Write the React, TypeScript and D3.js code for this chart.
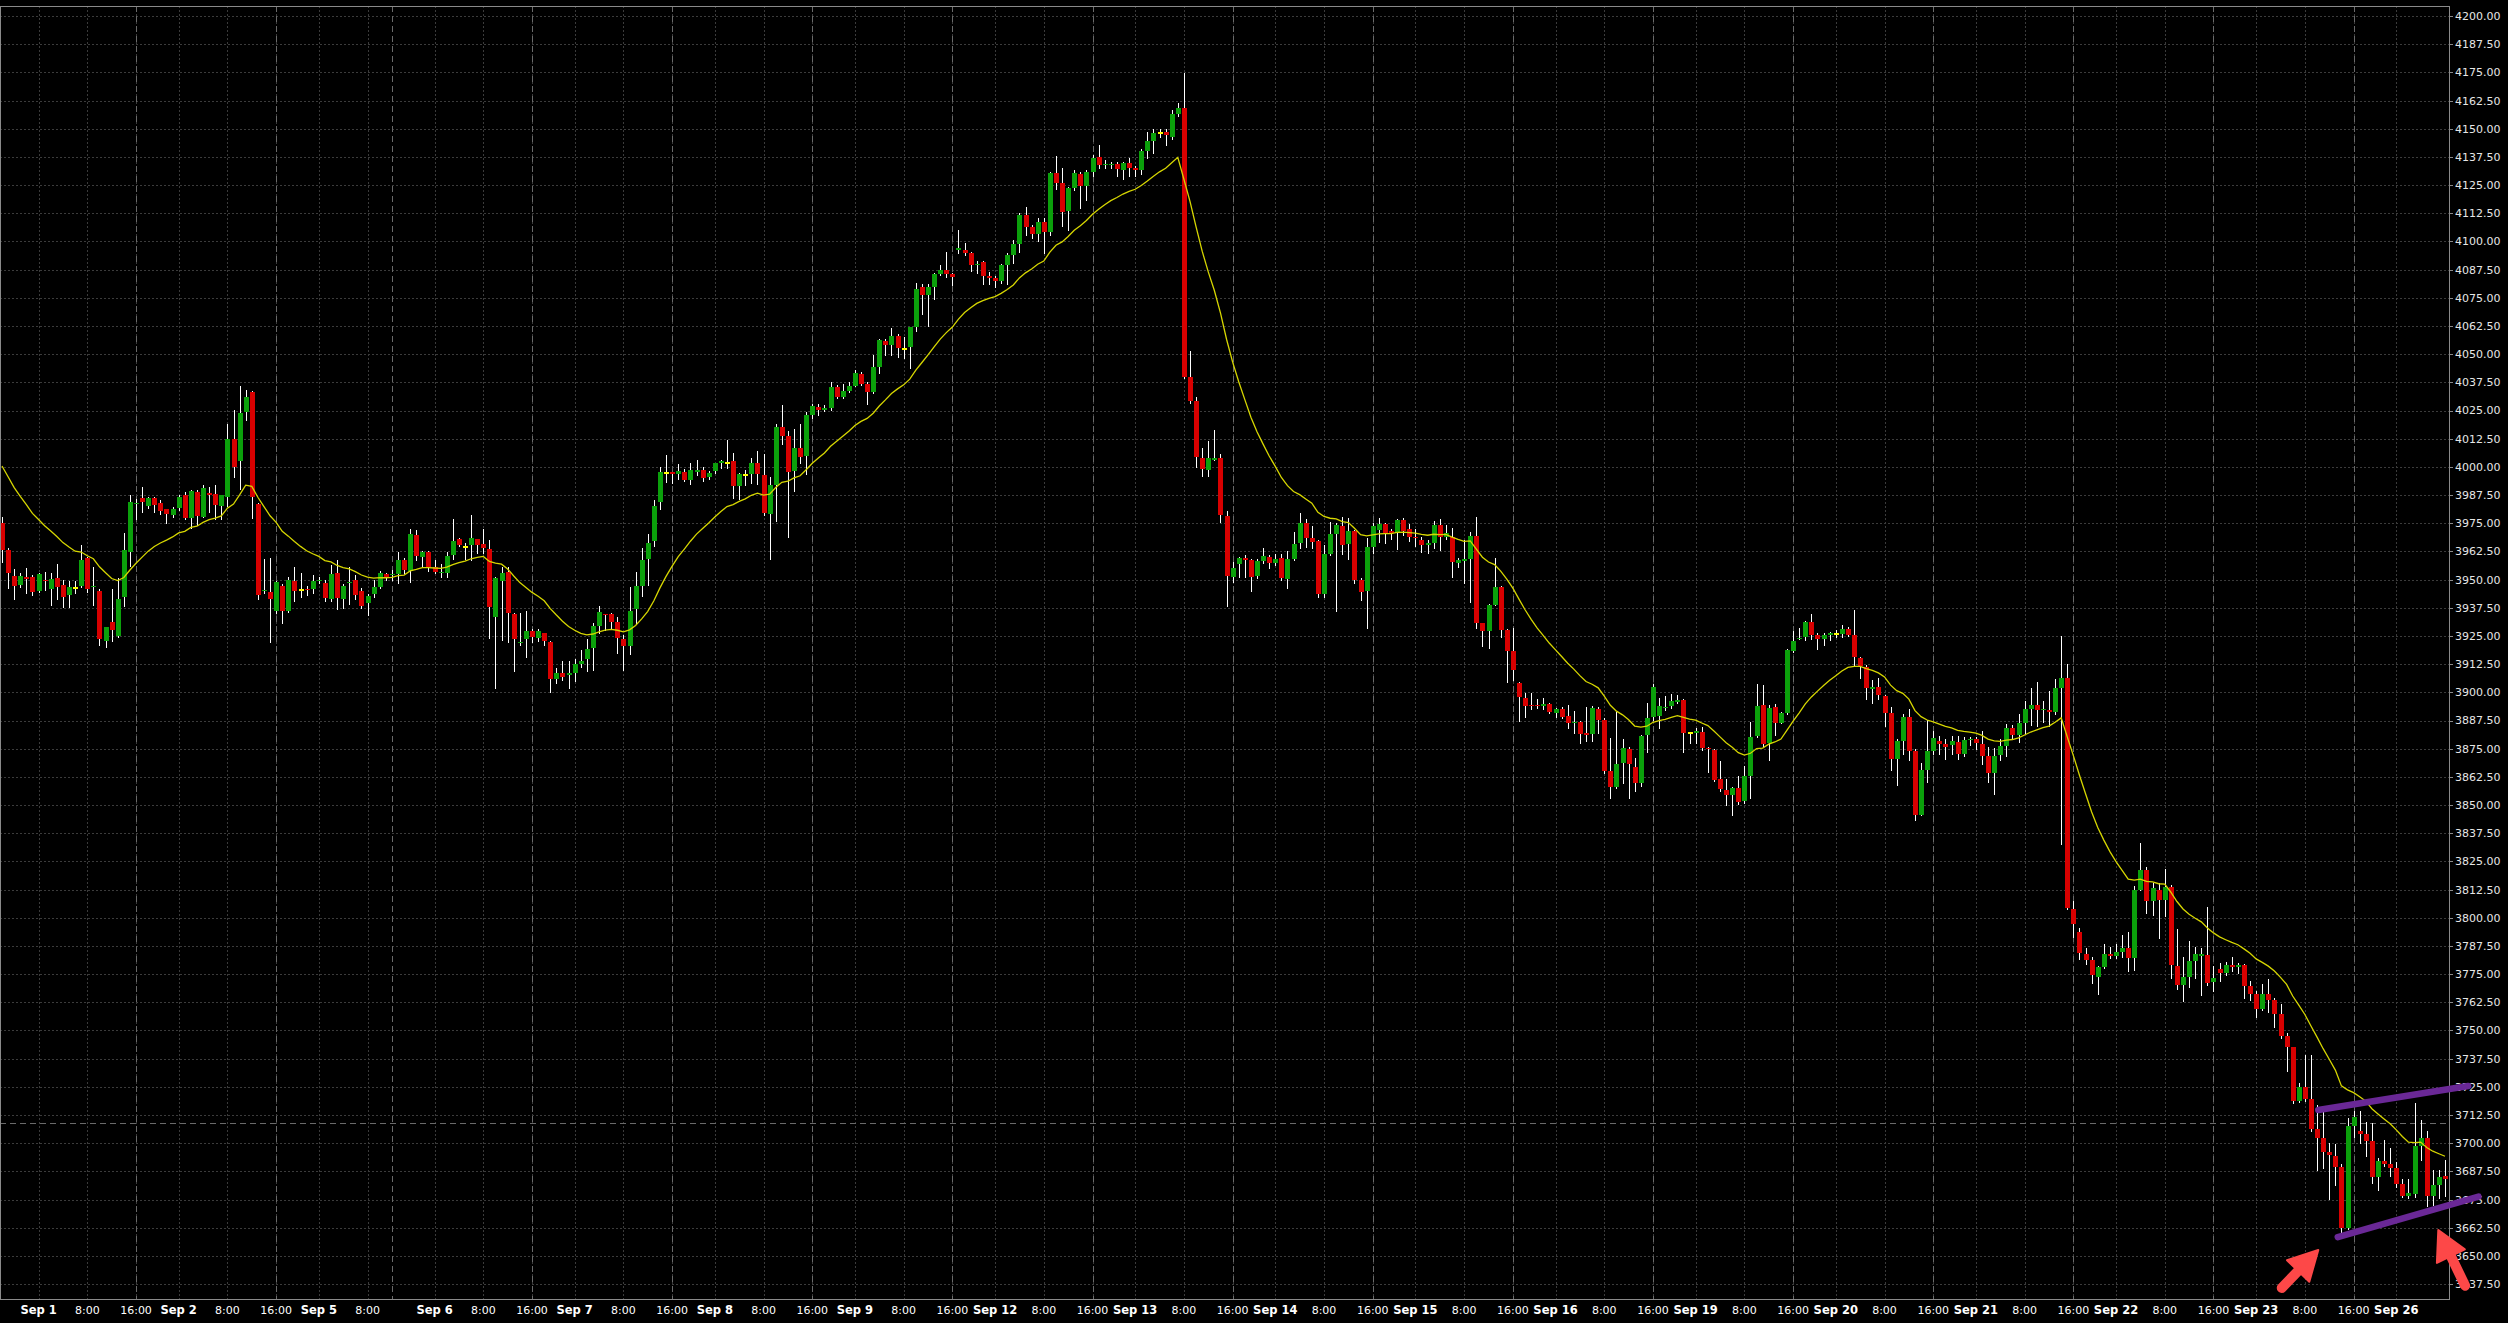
import React from 'react';
import * as d3 from 'd3';

// ---------------- DATA (hourly bars) ----------------
const opens = [
  3974.9, 3963.1, 3951.6, 3947.6, 3951.0, 3951.0, 3945.1, 3949.8, 3946.0, 3950.5,
  3947.4, 3943.0, 3946.3, 3947.1, 3959.4, 3946.5, 3944.9, 3922.9, 3931.2, 3925.1,
  3942.4, 3962.4, 3983.5, 3986.3, 3982.6, 3986.3, 3983.8, 3981.2, 3978.6, 3981.6,
  3987.5, 3977.5, 3988.8, 3977.9, 3988.3, 3987.8, 3982.8, 3986.8, 4012.2, 4002.7,
  4024.5, 4033.2, 3983.5, 3944.8, 3944.6, 3936.2, 3947.1, 3936.2, 3949.4, 3945.5,
  3945.8, 3946.0, 3949.2, 3948.5, 3941.2, 3952.8, 3941.5, 3948.5, 3949.8, 3944.9,
  3939.7, 3943.6, 3946.8, 3952.3, 3952.0, 3952.3, 3958.7, 3953.9, 3969.8, 3960.2,
  3962.4, 3955.4, 3952.8, 3953.1, 3960.9, 3967.8, 3964.6, 3965.2, 3967.8, 3965.9,
  3963.4, 3933.2, 3949.5, 3953.5, 3934.7, 3921.7, 3923.5, 3927.0, 3924.1, 3926.1,
  3922.3, 3905.7, 3908.5, 3907.8, 3908.7, 3912.5, 3914.8, 3919.8, 3929.5, 3934.7,
  3934.7, 3931.3, 3923.8, 3920.7, 3936.8, 3947.1, 3959.2, 3967.0, 3984.6, 3997.3,
  3997.7, 3996.7, 3997.7, 3994.1, 3997.7, 3998.4, 3995.3, 3998.0, 4001.8, 4001.8,
  4002.5, 3991.6, 3996.3, 3997.0, 4001.5, 3996.3, 3979.0, 3992.0, 4017.7, 4013.6,
  3998.0, 4008.4, 4004.9, 4023.1, 4026.5, 4025.3, 4026.3, 4035.5, 4030.8, 4033.6,
  4036.0, 4041.2, 4036.7, 4033.4, 4044.1, 4055.8, 4054.1, 4058.1, 4052.4, 4053.3,
  4062.2, 4079.8, 4076.4, 4079.8, 4085.5, 4087.3, 4085.5, 4096.4, 4096.4, 4094.7,
  4089.5, 4090.9, 4084.7, 4083.6, 4082.6, 4089.5, 4094.2, 4098.8, 4111.9, 4106.4,
  4103.3, 4108.8, 4104.2, 4130.4, 4126.1, 4113.7, 4123.5, 4130.1, 4124.4, 4130.9,
  4137.3, 4133.7, 4133.7, 4134.4, 4131.8, 4134.7, 4132.7, 4131.8, 4139.9, 4144.7,
  4148.2, 4148.5, 4146.5, 4156.5, 4159.2, 4040.0, 4029.4, 4004.1, 3998.7, 4003.2,
  4004.1, 3978.0, 3951.3, 3956.9, 3959.4, 3958.7, 3951.6, 3958.1, 3959.9, 3957.5,
  3959.4, 3950.3, 3959.1, 3966.4, 3975.0, 3968.6, 3967.1, 3943.6, 3961.4, 3970.2,
  3973.8, 3965.8, 3971.6, 3949.8, 3944.9, 3964.6, 3972.0, 3974.7, 3971.6, 3970.8,
  3976.4, 3972.3, 3969.0, 3967.6, 3965.5, 3966.4, 3974.2, 3968.7, 3969.0, 3957.5,
  3958.4, 3959.3, 3969.3, 3930.6, 3927.3, 3938.7, 3946.6, 3927.6, 3918.5, 3904.0,
  3897.6, 3894.4, 3894.4, 3893.9, 3894.8, 3891.0, 3892.7, 3889.5, 3886.2, 3886.8,
  3881.8, 3881.3, 3892.6, 3887.7, 3865.2, 3858.1, 3868.5, 3874.7, 3867.0, 3859.9,
  3881.1, 3888.9, 3889.5, 3892.9, 3893.9, 3895.7, 3896.6, 3881.8, 3882.1, 3882.5,
  3875.1, 3874.4, 3861.4, 3856.7, 3854.4, 3857.4, 3851.9, 3862.9, 3880.6, 3894.4,
  3877.4, 3893.6, 3886.5, 3890.7, 3918.5, 3923.5, 3924.4, 3931.2, 3925.4, 3923.5,
  3925.3, 3925.9, 3926.0, 3928.3, 3925.3, 3915.2, 3911.1, 3901.6, 3902.3, 3898.4,
  3890.9, 3870.4, 3878.4, 3889.0, 3874.1, 3845.7, 3865.4, 3874.1, 3878.4, 3876.9,
  3876.5, 3877.9, 3872.8, 3878.8, 3879.4, 3877.1, 3871.9, 3864.4, 3872.4, 3876.2,
  3884.0, 3881.2, 3886.4, 3892.8, 3894.3, 3892.0, 3892.0, 3891.3, 3902.1, 3906.4,
  3803.7, 3793.8, 3784.1, 3781.3, 3773.9, 3778.2, 3783.8, 3783.2, 3784.9, 3786.4,
  3782.3, 3812.5, 3821.4, 3807.4, 3812.5, 3808.0, 3813.6, 3778.5, 3770.1, 3773.9,
  3780.7, 3783.2, 3783.6, 3771.4, 3777.4, 3775.7, 3778.9, 3778.2, 3778.9, 3769.6,
  3766.4, 3759.5, 3766.4, 3763.6, 3757.1, 3747.7, 3742.7, 3718.8, 3724.8, 3719.7,
  3706.1, 3702.4, 3696.0, 3694.5, 3689.3, 3662.4, 3707.6, 3705.4, 3704.2, 3701.1,
  3685.2, 3692.3, 3690.8, 3688.9, 3681.8, 3676.8, 3677.3, 3698.6, 3702.4, 3676.8,
  3681.4, 3685.6,
];

const highs = [
  3977.9, 3964.0, 3954.5, 3952.8, 3955.0, 3952.0, 3952.8, 3953.5, 3952.8, 3956.9,
  3949.8, 3949.5, 3949.5, 3965.3, 3960.2, 3955.7, 3945.7, 3929.1, 3945.7, 3950.8,
  3970.5, 3987.5, 3985.9, 3991.1, 3986.8, 3986.8, 3985.3, 3981.2, 3982.3, 3987.5,
  3989.0, 3989.6, 3989.7, 3991.8, 3991.2, 3991.8, 3987.7, 4019.0, 4025.2, 4035.9,
  4034.1, 4033.8, 3983.8, 3959.3, 3959.4, 3949.2, 3948.0, 3951.3, 3955.6, 3953.1,
  3947.3, 3952.0, 3951.3, 3949.8, 3956.5, 3958.7, 3947.9, 3955.7, 3952.0, 3946.3,
  3943.4, 3949.8, 3953.9, 3952.8, 3954.2, 3962.2, 3959.4, 3972.4, 3972.0, 3962.8,
  3962.8, 3958.7, 3956.9, 3962.4, 3976.9, 3968.3, 3966.4, 3978.6, 3967.8, 3972.3,
  3967.5, 3951.0, 3955.7, 3955.7, 3935.3, 3935.0, 3936.1, 3927.9, 3927.9, 3926.4,
  3922.7, 3910.6, 3913.9, 3913.9, 3914.9, 3918.8, 3923.5, 3930.6, 3938.3, 3934.7,
  3935.3, 3933.5, 3925.5, 3946.6, 3953.2, 3963.9, 3970.4, 3985.1, 3999.8, 4005.3,
  3997.7, 4001.1, 3998.9, 4001.5, 4003.2, 4000.1, 3998.0, 4001.8, 4003.2, 4011.8,
  4006.1, 3997.5, 3998.4, 4004.1, 4007.0, 4005.8, 3995.4, 4019.1, 4027.4, 4015.8,
  4017.0, 4019.1, 4024.3, 4027.7, 4027.7, 4027.4, 4037.7, 4036.3, 4036.9, 4037.7,
  4042.9, 4042.0, 4037.7, 4049.8, 4056.7, 4056.7, 4061.5, 4058.8, 4057.6, 4062.2,
  4081.7, 4080.9, 4080.9, 4086.0, 4089.5, 4095.5, 4086.0, 4105.0, 4099.3, 4095.5,
  4091.2, 4091.2, 4086.4, 4084.7, 4089.8, 4094.7, 4100.7, 4112.8, 4115.4, 4107.1,
  4110.2, 4110.2, 4130.9, 4137.8, 4132.7, 4124.0, 4131.6, 4130.9, 4131.6, 4138.2,
  4143.0, 4136.1, 4135.2, 4135.2, 4135.2, 4137.0, 4133.5, 4140.9, 4148.5, 4149.9,
  4149.9, 4149.9, 4158.5, 4161.6, 4174.9, 4051.2, 4030.8, 4008.4, 4011.5, 4016.2,
  4005.8, 3980.4, 3957.9, 3960.2, 3960.9, 3959.0, 3959.0, 3963.9, 3960.9, 3961.4,
  3961.4, 3962.8, 3971.3, 3979.4, 3976.7, 3973.8, 3967.6, 3965.3, 3975.7, 3975.0,
  3977.9, 3977.2, 3972.0, 3950.6, 3968.3, 3975.0, 3977.2, 3975.2, 3972.3, 3976.7,
  3977.2, 3974.7, 3972.3, 3968.7, 3967.6, 3976.1, 3976.9, 3974.2, 3972.7, 3959.4,
  3967.6, 3971.3, 3977.9, 3930.9, 3939.2, 3959.4, 3947.2, 3927.9, 3928.4, 3904.7,
  3899.5, 3899.5, 3896.9, 3897.3, 3895.1, 3893.0, 3893.6, 3894.4, 3891.9, 3887.4,
  3893.6, 3893.9, 3893.6, 3888.5, 3879.6, 3891.4, 3879.1, 3875.9, 3870.7, 3881.1,
  3895.1, 3903.7, 3897.3, 3898.4, 3899.3, 3898.8, 3896.9, 3882.5, 3884.0, 3884.8,
  3875.9, 3874.7, 3869.7, 3861.4, 3858.1, 3862.9, 3867.3, 3887.0, 3903.7, 3903.2,
  3894.4, 3894.8, 3891.4, 3919.1, 3927.3, 3928.4, 3931.8, 3934.7, 3926.2, 3926.2,
  3926.9, 3927.6, 3929.8, 3928.8, 3936.3, 3915.7, 3912.0, 3905.5, 3906.4, 3898.8,
  3893.3, 3879.4, 3890.5, 3892.8, 3874.7, 3868.5, 3887.7, 3882.7, 3880.8, 3879.4,
  3880.8, 3880.8, 3880.3, 3880.3, 3880.3, 3882.7, 3875.6, 3875.2, 3879.4, 3885.9,
  3885.3, 3890.5, 3896.1, 3901.7, 3904.5, 3896.1, 3900.8, 3905.9, 3925.1, 3912.6,
  3807.4, 3795.3, 3786.4, 3782.6, 3778.5, 3788.2, 3786.9, 3788.2, 3792.5, 3793.5,
  3814.0, 3833.0, 3822.4, 3815.5, 3815.5, 3821.8, 3814.4, 3794.9, 3782.6, 3789.7,
  3786.9, 3786.4, 3804.7, 3778.5, 3780.0, 3780.4, 3782.6, 3780.0, 3779.5, 3772.0,
  3767.3, 3770.7, 3772.9, 3764.5, 3761.7, 3748.7, 3742.7, 3726.6, 3739.3, 3739.3,
  3716.9, 3714.7, 3700.1, 3699.7, 3690.8, 3711.3, 3714.1, 3714.1, 3709.4, 3709.1,
  3693.6, 3701.6, 3697.9, 3691.7, 3684.3, 3684.3, 3717.9, 3710.4, 3705.4, 3688.0,
  3688.0, 3692.7,
];

const lows = [
  3957.9, 3946.1, 3941.2, 3946.8, 3943.9, 3943.2, 3944.6, 3945.4, 3938.7, 3941.2,
  3937.7, 3937.7, 3943.9, 3946.8, 3944.6, 3938.7, 3921.0, 3919.9, 3922.9, 3924.7,
  3938.4, 3956.2, 3976.7, 3980.1, 3981.6, 3980.1, 3978.9, 3974.9, 3977.6, 3981.0,
  3976.9, 3972.7, 3974.2, 3977.9, 3980.1, 3977.0, 3976.7, 3982.8, 3995.3, 3990.0,
  4020.8, 3977.5, 3941.5, 3943.9, 3922.5, 3935.0, 3930.9, 3935.8, 3940.6, 3942.4,
  3943.2, 3943.9, 3948.6, 3940.3, 3940.3, 3937.1, 3937.2, 3939.2, 3941.5, 3937.2,
  3934.3, 3942.4, 3946.4, 3949.8, 3949.8, 3948.3, 3952.8, 3949.1, 3958.7, 3955.7,
  3953.9, 3952.8, 3951.0, 3951.0, 3959.0, 3965.0, 3959.0, 3958.7, 3961.6, 3961.6,
  3923.9, 3901.7, 3923.2, 3922.5, 3909.6, 3921.0, 3915.8, 3922.5, 3922.9, 3921.0,
  3900.0, 3904.3, 3905.4, 3902.0, 3905.1, 3911.4, 3909.6, 3909.9, 3926.4, 3927.6,
  3928.4, 3917.3, 3910.0, 3916.9, 3930.7, 3942.8, 3947.6, 3964.9, 3981.1, 3993.2,
  3992.9, 3994.6, 3993.7, 3992.2, 3996.3, 3993.7, 3994.6, 3997.2, 3999.4, 3999.4,
  3986.3, 3985.9, 3992.0, 3992.9, 3992.5, 3978.5, 3959.2, 3975.9, 4010.1, 3969.0,
  3989.4, 4001.5, 3996.7, 4021.8, 4023.1, 4024.8, 4025.1, 4030.5, 4030.5, 4033.2,
  4035.7, 4036.3, 4027.7, 4032.9, 4041.5, 4049.5, 4049.5, 4048.9, 4048.4, 4043.8,
  4060.2, 4067.8, 4062.7, 4074.3, 4085.2, 4084.3, 4080.5, 4094.7, 4093.8, 4086.9,
  4086.0, 4080.9, 4080.9, 4080.0, 4081.7, 4081.2, 4090.4, 4095.5, 4103.0, 4101.6,
  4100.2, 4095.0, 4103.0, 4123.2, 4106.8, 4105.0, 4123.0, 4115.0, 4118.5, 4129.2,
  4132.7, 4132.7, 4132.7, 4128.9, 4127.8, 4129.2, 4128.9, 4130.1, 4137.0, 4139.2,
  4146.5, 4143.0, 4145.6, 4155.8, 4039.4, 4028.2, 4000.1, 3995.8, 3995.8, 4002.9,
  3975.6, 3938.5, 3949.1, 3951.3, 3951.3, 3945.1, 3950.7, 3957.2, 3955.0, 3956.5,
  3949.8, 3946.4, 3958.7, 3963.9, 3964.6, 3963.9, 3942.4, 3942.4, 3960.9, 3936.2,
  3961.4, 3959.0, 3948.6, 3940.9, 3928.4, 3961.9, 3966.8, 3966.1, 3967.9, 3963.6,
  3969.8, 3967.3, 3964.9, 3962.4, 3961.9, 3963.9, 3963.1, 3967.9, 3951.3, 3955.7,
  3948.3, 3940.2, 3928.4, 3920.5, 3919.5, 3938.7, 3924.7, 3904.7, 3905.5, 3887.4,
  3889.2, 3892.4, 3892.9, 3892.4, 3890.7, 3889.2, 3888.5, 3884.0, 3881.8, 3877.7,
  3878.6, 3878.6, 3881.8, 3864.0, 3853.0, 3857.4, 3859.6, 3853.0, 3856.4, 3858.4,
  3873.7, 3887.7, 3884.0, 3892.2, 3892.9, 3895.4, 3873.7, 3877.4, 3877.4, 3874.4,
  3864.8, 3860.8, 3856.4, 3850.0, 3845.6, 3850.4, 3850.7, 3853.0, 3880.3, 3875.9,
  3870.0, 3881.1, 3886.2, 3890.4, 3918.0, 3923.5, 3923.2, 3923.5, 3919.1, 3921.0,
  3923.2, 3924.4, 3924.5, 3925.1, 3912.0, 3906.4, 3897.1, 3895.2, 3897.1, 3884.9,
  3865.4, 3858.8, 3872.8, 3870.0, 3843.5, 3845.4, 3860.3, 3872.8, 3872.8, 3870.4,
  3872.8, 3870.4, 3871.9, 3876.5, 3874.7, 3868.1, 3860.3, 3854.7, 3870.0, 3871.9,
  3879.4, 3877.9, 3882.1, 3885.3, 3884.9, 3886.8, 3884.9, 3890.5, 3832.7, 3803.7,
  3791.6, 3781.9, 3779.4, 3771.1, 3766.4, 3777.6, 3782.3, 3782.3, 3782.6, 3776.6,
  3777.0, 3812.1, 3801.9, 3801.3, 3791.2, 3800.6, 3773.3, 3768.3, 3763.2, 3769.2,
  3773.3, 3765.8, 3770.1, 3767.3, 3772.0, 3774.4, 3776.6, 3775.7, 3764.5, 3763.6,
  3756.1, 3758.9, 3758.0, 3751.4, 3746.8, 3731.9, 3717.9, 3718.4, 3718.8, 3705.4,
  3688.0, 3688.9, 3675.4, 3681.4, 3660.0, 3661.8, 3702.9, 3700.1, 3694.5, 3682.4,
  3679.2, 3689.9, 3685.6, 3680.5, 3676.2, 3675.9, 3676.2, 3692.7, 3672.1, 3672.5,
  3675.9, 3676.8,
];

const closes = [
  3963.1, 3952.8, 3947.1, 3951.6, 3950.4, 3944.6, 3952.3, 3949.2, 3950.4, 3946.8,
  3942.4, 3946.5, 3946.3, 3958.7, 3946.0, 3947.1, 3923.5, 3929.1, 3927.6, 3941.4,
  3963.1, 3984.4, 3984.1, 3984.6, 3986.3, 3983.1, 3980.4, 3979.1, 3981.5, 3986.8,
  3977.5, 3989.1, 3978.3, 3990.6, 3987.7, 3982.9, 3987.7, 4012.2, 4000.1, 4024.0,
  4030.8, 3986.5, 3943.0, 3945.4, 3941.5, 3948.8, 3936.2, 3949.8, 3945.1, 3945.5,
  3945.4, 3949.4, 3949.8, 3942.0, 3952.5, 3942.0, 3947.1, 3948.9, 3943.0, 3938.4,
  3942.7, 3946.5, 3952.8, 3950.5, 3952.6, 3958.7, 3954.2, 3970.2, 3960.5, 3962.4,
  3955.7, 3953.5, 3953.4, 3960.5, 3967.0, 3965.3, 3964.6, 3968.3, 3965.3, 3964.0,
  3938.0, 3950.5, 3953.1, 3935.3, 3923.5, 3922.3, 3927.0, 3924.7, 3927.0, 3922.9,
  3905.9, 3908.4, 3906.9, 3908.4, 3912.5, 3913.9, 3919.1, 3929.4, 3935.5, 3934.1,
  3931.3, 3923.9, 3920.4, 3935.9, 3947.1, 3958.7, 3966.1, 3982.8, 3997.7, 3997.3,
  3996.7, 3998.0, 3994.1, 3998.4, 3998.4, 3994.9, 3997.3, 4001.5, 4002.5, 4001.8,
  3991.6, 3997.0, 3996.3, 4001.5, 3996.7, 3979.4, 3992.0, 4017.7, 4013.9, 3997.7,
  4008.4, 4004.6, 4023.1, 4027.0, 4025.3, 4026.3, 4035.5, 4031.2, 4033.6, 4035.7,
  4041.5, 4036.7, 4033.4, 4044.3, 4056.2, 4054.1, 4058.1, 4052.9, 4052.4, 4061.9,
  4079.1, 4076.4, 4079.8, 4085.5, 4087.4, 4085.7, 4084.3, 4097.1, 4094.7, 4089.5,
  4090.2, 4084.8, 4084.0, 4082.6, 4089.5, 4094.2, 4098.8, 4111.9, 4106.4, 4103.3,
  4108.8, 4104.2, 4130.4, 4126.1, 4113.1, 4123.5, 4130.4, 4124.4, 4130.9, 4137.0,
  4134.0, 4134.4, 4134.4, 4132.1, 4134.7, 4132.7, 4131.8, 4139.9, 4144.7, 4148.2,
  4148.2, 4147.0, 4156.5, 4159.1, 4040.0, 4029.4, 4004.6, 3998.9, 4003.9, 4003.9,
  3978.7, 3951.4, 3955.0, 3959.4, 3958.7, 3951.3, 3958.1, 3960.5, 3957.5, 3959.0,
  3950.8, 3959.0, 3965.8, 3975.0, 3968.6, 3966.8, 3943.6, 3961.4, 3970.2, 3974.1,
  3965.3, 3971.6, 3949.8, 3944.6, 3964.3, 3973.8, 3974.7, 3970.8, 3970.5, 3976.4,
  3971.7, 3969.0, 3968.3, 3965.3, 3966.1, 3974.2, 3968.7, 3970.5, 3957.9, 3958.7,
  3959.0, 3969.3, 3930.9, 3927.3, 3938.7, 3946.6, 3927.6, 3918.5, 3909.9, 3897.8,
  3893.9, 3893.8, 3893.8, 3894.8, 3891.4, 3892.7, 3889.2, 3886.2, 3886.8, 3881.3,
  3881.1, 3892.9, 3887.7, 3865.2, 3857.8, 3868.2, 3875.1, 3868.2, 3859.9, 3880.6,
  3888.5, 3902.2, 3893.9, 3893.6, 3896.0, 3896.6, 3882.1, 3881.8, 3882.8, 3875.4,
  3874.7, 3861.1, 3857.0, 3854.4, 3857.4, 3851.5, 3862.9, 3880.0, 3893.9, 3877.1,
  3892.9, 3886.5, 3891.0, 3918.8, 3922.9, 3924.1, 3931.2, 3925.4, 3923.5, 3925.3,
  3926.2, 3925.9, 3928.3, 3925.6, 3915.7, 3911.5, 3901.7, 3902.3, 3898.6, 3890.9,
  3870.4, 3878.4, 3889.0, 3874.1, 3845.7, 3865.4, 3874.1, 3879.7, 3877.1, 3875.6,
  3878.4, 3872.8, 3878.8, 3879.4, 3877.5, 3871.9, 3864.4, 3871.9, 3876.2, 3884.0,
  3881.2, 3886.4, 3892.4, 3894.3, 3892.0, 3892.8, 3891.3, 3902.1, 3906.4, 3804.3,
  3797.2, 3784.5, 3781.3, 3774.4, 3778.2, 3783.8, 3783.2, 3784.9, 3786.4, 3782.3,
  3812.5, 3821.4, 3807.4, 3813.1, 3808.0, 3813.6, 3778.9, 3770.1, 3773.9, 3780.7,
  3783.8, 3783.8, 3771.1, 3773.5, 3775.7, 3778.9, 3778.2, 3778.9, 3769.6, 3766.4,
  3759.5, 3766.4, 3763.6, 3757.1, 3747.7, 3742.7, 3718.8, 3724.8, 3719.7, 3706.1,
  3702.4, 3696.0, 3694.9, 3689.3, 3662.4, 3707.6, 3711.7, 3704.2, 3701.1, 3684.8,
  3692.3, 3690.8, 3688.9, 3681.8, 3676.8, 3677.7, 3698.6, 3702.4, 3676.8, 3681.4,
  3685.2, 3684.3,
];

// time axis: bars before the first labelled day, then bars per session day
const leadBars = 6;
const dayLabels = ['Sep 1', 'Sep 2', 'Sep 5', 'Sep 6', 'Sep 7', 'Sep 8', 'Sep 9', 'Sep 12', 'Sep 13',
  'Sep 14', 'Sep 15', 'Sep 16', 'Sep 19', 'Sep 20', 'Sep 21', 'Sep 22', 'Sep 23', 'Sep 26'];
const dayBarCounts = [23, 23, 19, 23, 23, 23, 23, 23, 23, 23, 23, 23, 23, 23, 23, 23, 23, 9];
const sessionBreakHour = [16, 16, 12, 16, 16, 16, 16, 16, 16, 16, 16, 16, 16, 16, 16, 16, 16, 16];
const timeLabelHours = [8, 16];

// price axis
const priceMin = 3637.5;
const priceMax = 4200;
const priceStep = 12.5;

// moving average (exponential, 19 bars) and its value at the first bar
const maPeriod = 19;
const maStart = 4000.4;

// horizontal dashed price line
const markerPrice = 3709;

// hand-drawn annotations: [bar index, price]
const channelUpper = [[380.2, 3714.7], [404.8, 3725.4]];
const channelLower = [[383.4, 3658.3], [406.5, 3676.3]];
const arrowTips = [[380.2, 3652.6], [399.9, 3661.5]];
const arrowTails = [[374.2, 3635.8], [404.3, 3636.8]];

// ---------------- CHART ----------------
const W = 2508;
const H = 1323;
const PL = 0, PT = 6, PR = 2449, PB = 1299;

const COL_UP = '#0ba00b';
const COL_DN = '#d80000';
const COL_DOJI = '#ffff00';
const COL_GRID = '#3b3b3b';
const COL_SEP = '#6a6a6a';
const COL_FRAME = '#8a8a8a';

export default function App() {
  const n = closes.length;
  const x = d3.scaleLinear().domain([0, n - 1]).range([2, 2445]);
  const y = d3.scaleLinear().domain([priceMin, priceMax]).range([1284.1, 16]);

  const ticks = d3.range(priceMin, priceMax + 0.001, priceStep);

  // time labels & separators
  type Lab = { bar: number; text: string; bold: boolean };
  const labs: Lab[] = [];
  const seps: number[] = [];
  let start = leadBars;
  dayLabels.forEach((d, k) => {
    labs.push({ bar: start, text: d, bold: true });
    timeLabelHours.forEach((h) => {
      if (h < dayBarCounts[k]) labs.push({ bar: start + h, text: `${h}:00`, bold: false });
    });
    if (sessionBreakHour[k] < dayBarCounts[k]) seps.push(start + sessionBreakHour[k]);
    start += dayBarCounts[k];
  });
  labs.sort((a, b) => a.bar - b.bar);
  const shown = labs.filter((l, i) => {
    if (l.bold) return true;
    const next = labs[i + 1];
    if (next && next.bar - l.bar < 5) return false;
    if (x(l.bar) + 14 > PR) return false;
    return true;
  });

  // EMA
  const alpha = 2 / (maPeriod + 1);
  const ma: number[] = [];
  closes.forEach((c, i) => {
    ma.push(i === 0 ? maStart : ma[i - 1] + alpha * (c - ma[i - 1]));
  });
  const maLine = d3.line<number>().x((_, i) => x(i)).y((v) => y(v))(ma) || '';

  const cx = (i: number) => Math.round(x(i));

  // arrow geometry
  const arrows = arrowTips.map((tp, k) => {
    const tx = x(tp[0]), ty = y(tp[1]);
    const sx = x(arrowTails[k][0]), sy = y(arrowTails[k][1]);
    const dx = tx - sx, dy = ty - sy;
    const len = Math.hypot(dx, dy);
    const ux = dx / len, uy = dy / len;
    const nx = -uy, ny = ux;
    const hl = 29, hw = 15.5;
    const bx = tx - ux * hl, by = ty - uy * hl;
    const head = `${tx},${ty} ${bx + nx * hw},${by + ny * hw} ${bx - nx * hw},${by - ny * hw}`;
    return { sx, sy, ex: bx + ux * 3, ey: by + uy * 3, head };
  });

  return (
    <svg width={W} height={H} style={{ position: 'fixed', left: 0, top: 0, display: 'block' }}
      xmlns="http://www.w3.org/2000/svg">
      <rect x={0} y={0} width={W} height={H} fill="#000" />

      {/* horizontal grid */}
      <g shapeRendering="crispEdges">
        {ticks.map((t) => (
          <line key={'hg' + t} x1={PL} x2={PR} y1={Math.round(y(t)) + 0.5} y2={Math.round(y(t)) + 0.5}
            stroke={COL_GRID} strokeWidth={1} strokeDasharray="2,2" />
        ))}
        {shown.map((l) => (
          <line key={'vg' + l.bar} x1={cx(l.bar) + 0.5} x2={cx(l.bar) + 0.5} y1={PT} y2={PB}
            stroke={COL_GRID} strokeWidth={1} strokeDasharray="2,2" />
        ))}
        {seps.map((b) => (
          <line key={'sp' + b} x1={cx(b) + 0.5} x2={cx(b) + 0.5} y1={PT} y2={PB}
            stroke={COL_SEP} strokeWidth={1} strokeDasharray="6,4" />
        ))}
        <line x1={PL} x2={PR} y1={Math.round(y(markerPrice)) + 0.5} y2={Math.round(y(markerPrice)) + 0.5}
          stroke={COL_SEP} strokeWidth={1} strokeDasharray="6,4" />
      </g>

      {/* candles */}
      <g shapeRendering="crispEdges">
        {closes.map((c, i) => (
          <line key={'w' + i} x1={cx(i) + 0.5} x2={cx(i) + 0.5} y1={Math.round(y(highs[i]))}
            y2={Math.round(y(lows[i])) + 1} stroke="#ffffff" strokeWidth={1} />
        ))}
        {closes.map((c, i) => {
          const o = opens[i];
          if (o === c) {
            return <rect key={'b' + i} x={cx(i) - 2} y={Math.round(y(c)) - 1} width={5} height={2} fill={COL_DOJI} />;
          }
          const top = Math.round(y(Math.max(o, c)));
          const bot = Math.round(y(Math.min(o, c)));
          return (
            <rect key={'b' + i} x={cx(i) - 2} y={top} width={5} height={Math.max(1, bot - top)}
              fill={c > o ? COL_UP : COL_DN} />
          );
        })}
      </g>

      {/* moving average */}
      <path d={maLine} fill="none" stroke="#d6d600" strokeWidth={1.3} />

      {/* frame */}
      <g shapeRendering="crispEdges" stroke={COL_FRAME} strokeWidth={1} fill="none">
        <line x1={PL + 0.5} x2={PR + 0.5} y1={PT + 0.5} y2={PT + 0.5} />
        <line x1={PL + 0.5} x2={PL + 0.5} y1={PT} y2={PB + 0.5} />
        <line x1={PR + 0.5} x2={PR + 0.5} y1={PT} y2={PB + 0.5} />
        <line x1={PL} x2={PR + 0.5} y1={PB + 0.5} y2={PB + 0.5} />
      </g>

      {/* price axis */}
      <g>
        {ticks.map((t) => (
          <g key={'yt' + t}>
            <line x1={PR + 1} x2={PR + 4} y1={Math.round(y(t)) + 0.5} y2={Math.round(y(t)) + 0.5}
              stroke={COL_FRAME} shapeRendering="crispEdges" />
            <text x={2455} y={y(t)} dy="0.36em" fill="#e6e6e6" fontFamily="'DejaVu Sans', sans-serif"
              fontSize={11}>
              {t.toFixed(2)}
            </text>
          </g>
        ))}
      </g>

      {/* time axis */}
      <g>
        {shown.map((l) => (
          <text key={'xl' + l.bar} x={x(l.bar)} y={1314} textAnchor="middle" fill="#ffffff"
            fontFamily="'DejaVu Sans', sans-serif" fontSize={l.bold ? 11.5 : 11}
            fontWeight={l.bold ? 'bold' : 'normal'}>
            {l.text}
          </text>
        ))}
      </g>

      {/* annotations */}
      <g stroke="#6a2896" strokeWidth={6.5} strokeLinecap="round" fill="none">
        <line x1={x(channelUpper[0][0])} y1={y(channelUpper[0][1])} x2={x(channelUpper[1][0])} y2={y(channelUpper[1][1])} />
        <line x1={x(channelLower[0][0])} y1={y(channelLower[0][1])} x2={x(channelLower[1][0])} y2={y(channelLower[1][1])} />
      </g>
      {arrows.map((a, k) => (
        <g key={'ar' + k}>
          <line x1={a.sx} y1={a.sy} x2={a.ex} y2={a.ey} stroke="#fd4848" strokeWidth={10} strokeLinecap="round" />
          <polygon points={a.head} fill="#fd4848" stroke="#fd4848" strokeWidth={2} strokeLinejoin="round" />
        </g>
      ))}
    </svg>
  );
}
